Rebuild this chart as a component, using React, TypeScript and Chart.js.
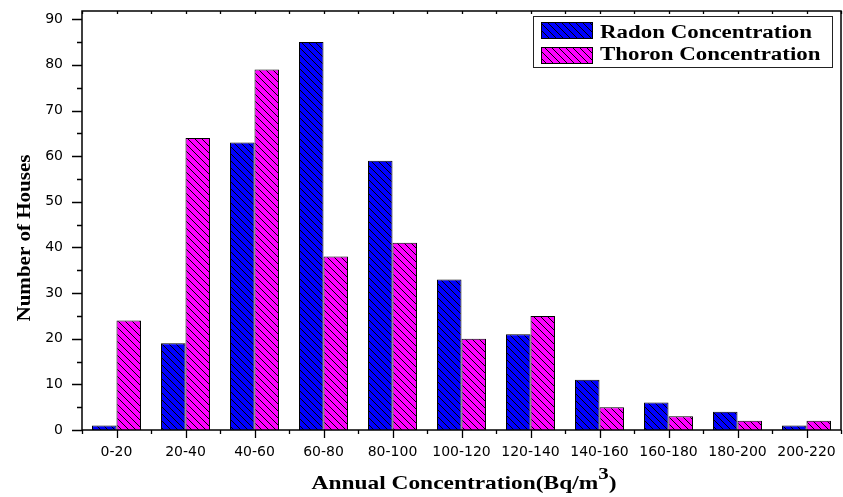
import React, { useEffect, useRef } from "react";
import { Chart, registerables } from "chart.js";

Chart.register(...registerables);

const categories = ["0-20", "20-40", "40-60", "60-80", "80-100", "100-120", "120-140", "140-160", "160-180", "180-200", "200-220"];
const radon = [1, 19, 63, 85, 59, 33, 21, 11, 6, 4, 1];
const thoron = [24, 64, 79, 38, 41, 20, 25, 5, 3, 2, 2];
const yTicks = [0, 10, 20, 30, 40, 50, 60, 70, 80, 90];
const seriesNames = ["Radon Concentration", "Thoron Concentration"];
const seriesColors = ["#0000FF", "#FF00FF"];
const xTitle = "Annual Concentration(Bq/m";
const xTitleSup = "3";
const xTitleEnd = ")";
const yTitle = "Number of Houses";

const W = 843;
const H = 497;
const SERIF = '"Liberation Serif", "Times New Roman", serif';
const SANS = '"DejaVu Sans", Verdana, sans-serif';

function makePattern(color: string): CanvasPattern | string {
  const s = 7;
  const c = document.createElement("canvas");
  c.width = s;
  c.height = s;
  const g = c.getContext("2d");
  if (!g) return color;
  g.fillStyle = color;
  g.fillRect(0, 0, s, s);
  g.strokeStyle = "#000";
  g.lineWidth = 1;
  g.beginPath();
  g.moveTo(-1, -1);
  g.lineTo(s + 1, s + 1);
  g.moveTo(-1, s - 1);
  g.lineTo(1, s + 1);
  g.moveTo(s - 1, -1);
  g.lineTo(s + 1, 1);
  g.stroke();
  const p = g.createPattern(c, "repeat");
  return p || color;
}

const decorPlugin = {
  id: "decor",
  afterDraw(chart: any) {
    const ctx = chart.ctx as CanvasRenderingContext2D;
    const a = chart.chartArea;
    const xs = chart.scales.x;
    const ys = chart.scales.y;
    ctx.save();
    ctx.strokeStyle = "#000";
    ctx.lineWidth = 1.5;
    ctx.strokeRect(a.left, a.top, a.right - a.left, a.bottom - a.top);
    ctx.lineWidth = 1.3;
    ctx.beginPath();
    for (let v = 0; v <= 90; v += 5) {
      const y = Math.round(ys.getPixelForValue(v)) + 0.5;
      const len = v % 10 === 0 ? 10 : 5;
      ctx.moveTo(a.left - len, y);
      ctx.lineTo(a.left, y);
    }
    const n = categories.length;
    const step = (a.right - a.left) / n;
    for (let i = 0; i <= n; i++) {
      const x = Math.round(a.left + i * step) + 0.5;
      ctx.moveTo(x, a.bottom);
      ctx.lineTo(x, a.bottom + 4);
      ctx.moveTo(x, a.top);
      ctx.lineTo(x, a.top + 3);
    }
    for (let i = 0; i < n; i++) {
      const x = Math.round(xs.getPixelForValue(i)) + 0.5;
      ctx.moveTo(x, a.bottom);
      ctx.lineTo(x, a.bottom + 8);
      ctx.moveTo(x, a.top);
      ctx.lineTo(x, a.top + 3);
    }
    ctx.stroke();

    // legend
    const lx = 533, ly = 16, lw = 299, lh = 51;
    ctx.fillStyle = "#fff";
    ctx.fillRect(lx, ly, lw, lh);
    ctx.lineWidth = 1;
    ctx.strokeStyle = "#222";
    ctx.strokeRect(lx + 0.5, ly + 0.5, lw, lh);
    const ds = chart.data.datasets;
    ctx.font = `bold 18px ${SERIF}`;
    ctx.textBaseline = "alphabetic";
    ctx.textAlign = "left";
    const legScale = 212 / ctx.measureText(ds[0].label).width;
    for (let i = 0; i < ds.length; i++) {
      const sy = i === 0 ? 22 : 47;
      ctx.fillStyle = ds[i].backgroundColor;
      ctx.fillRect(541, sy, 51, 16);
      ctx.strokeStyle = "#000";
      ctx.lineWidth = 1;
      ctx.strokeRect(541.5, sy + 0.5, 51, 16);
      ctx.fillStyle = "#000";
      ctx.save();
      ctx.translate(600, i === 0 ? 37.5 : 60);
      ctx.scale(legScale, 1);
      ctx.fillText(ds[i].label, 0, 0);
      ctx.restore();
    }

    // y title
    ctx.save();
    ctx.font = `bold 19px ${SERIF}`;
    const ySc = 167 / ctx.measureText(yTitle).width;
    ctx.translate(30, 238);
    ctx.rotate(-Math.PI / 2);
    ctx.scale(ySc, 1);
    ctx.textAlign = "center";
    ctx.textBaseline = "alphabetic";
    ctx.fillStyle = "#000";
    ctx.fillText(yTitle, 0, 0);
    ctx.restore();

    // x title
    const mainFont = `bold 19px ${SERIF}`;
    const supFont = `bold 17px ${SERIF}`;
    ctx.font = mainFont;
    const w1 = ctx.measureText(xTitle).width;
    const w3 = ctx.measureText(xTitleEnd).width;
    ctx.font = supFont;
    const w2 = ctx.measureText(xTitleSup).width;
    const total = w1 + w2 + w3;
    const xSc = 305 / total;
    const base = 489;
    ctx.save();
    ctx.translate(464 - 305 / 2, base);
    ctx.scale(xSc, 1);
    ctx.fillStyle = "#000";
    ctx.textAlign = "left";
    ctx.font = mainFont;
    ctx.fillText(xTitle, 0, 0);
    ctx.font = supFont;
    ctx.fillText(xTitleSup, w1, -10);
    ctx.font = mainFont;
    ctx.fillText(xTitleEnd, w1 + w2, 0);
    ctx.restore();
    ctx.restore();
  },
};

export default function App() {
  const ref = useRef<HTMLCanvasElement>(null);
  useEffect(() => {
    document.body.style.margin = "0";
    const canvas = ref.current;
    if (!canvas) return;
    const chart = new Chart(canvas, {
      type: "bar",
      data: {
        labels: categories,
        datasets: [
          {
            label: seriesNames[0],
            data: radon,
            backgroundColor: makePattern(seriesColors[0]) as any,
            borderColor: "#000",
            borderWidth: 1,
            categoryPercentage: 0.71,
            barPercentage: 1,
          },
          {
            label: seriesNames[1],
            data: thoron,
            backgroundColor: makePattern(seriesColors[1]) as any,
            borderColor: "#000",
            borderWidth: 1,
            categoryPercentage: 0.71,
            barPercentage: 1,
          },
        ],
      },
      options: {
        animation: false,
        responsive: false,
        maintainAspectRatio: false,
        devicePixelRatio: 1,
        layout: { padding: { top: 11, right: 2, left: 0, bottom: 0 } },
        plugins: { legend: { display: false }, tooltip: { enabled: false } },
        scales: {
          x: {
            type: "category",
            offset: true,
            grid: { display: false },
            border: { display: false },
            ticks: { color: "#000", font: { family: SANS, size: 14 }, padding: 6, maxRotation: 0, autoSkip: false },
            afterFit: (s: any) => {
              s.height = 67;
              s.paddingLeft = 0;
              s.paddingRight = 0;
            },
          },
          y: {
            min: 0,
            max: 91.8,
            grid: { display: false },
            border: { display: false },
            ticks: { color: "#000", font: { family: SANS, size: 14 }, padding: 11 },
            afterBuildTicks: (s: any) => { s.ticks = yTicks.map((v) => ({ value: v })); },
            afterFit: (s: any) => {
              s.width = 82;
              s.paddingTop = 0;
              s.paddingBottom = 0;
            },
          },
        },
      },
      plugins: [decorPlugin],
    });
    return () => chart.destroy();
  }, []);
  return (
    <div style={{ position: "fixed", left: 0, top: 0, width: W, height: H, background: "#fff" }}>
      <canvas ref={ref} width={W} height={H} style={{ width: W, height: H }} />
    </div>
  );
}
